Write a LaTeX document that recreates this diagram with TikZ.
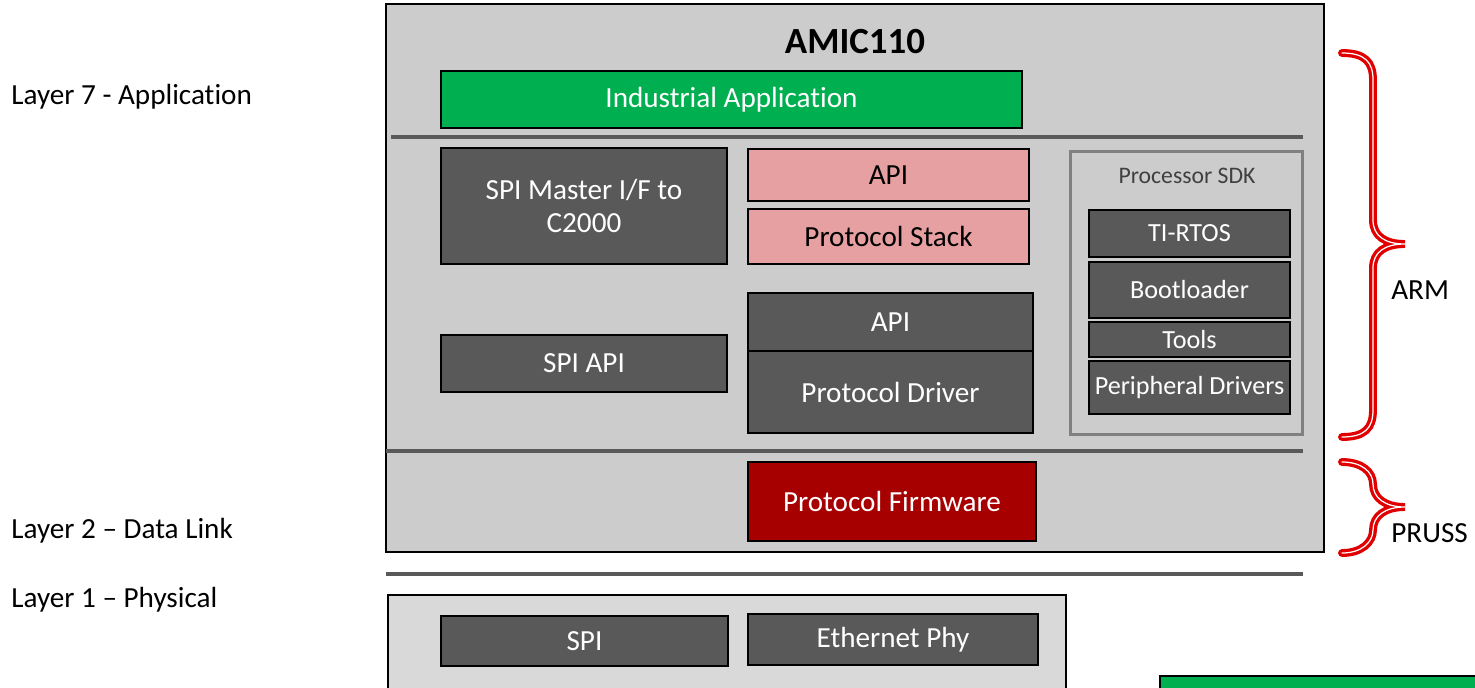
\documentclass[tikz,border=0pt]{standalone}
\usepackage{fontspec}
\setmainfont{Carlito}[Ligatures=NoCommon]
\usepackage{tikz}
\usetikzlibrary{positioning}
\definecolor{chipgray}{RGB}{204,204,204}
\definecolor{phygray}{RGB}{217,217,217}
\definecolor{boxgray}{RGB}{89,89,89}
\definecolor{stackpink}{RGB}{230,160,162}
\definecolor{fwred}{RGB}{166,0,0}
\definecolor{appgreen}{RGB}{0,176,80}
\definecolor{bracered}{RGB}{224,0,0}
\definecolor{sdkgray}{RGB}{128,128,128}
\definecolor{sdktext}{RGB}{64,64,64}
\newcommand{\lblfont}{\fontsize{16.6}{18.5}\selectfont}
\tikzset{
  layerlabel/.style={anchor=west, font=\lblfont, inner sep=0pt},
  darkbox/.style={draw=black, fill=boxgray, text=white, line width=0.8pt,
    inner sep=0pt, outer sep=0pt, font=\lblfont, align=center},
  pinkbox/.style={darkbox, fill=stackpink, text=black},
  sdkbox/.style={darkbox, font=\fontsize{14.9}{17}\selectfont},
  sepline/.style={draw=boxgray, line width=2.3pt},
  bracepath/.style={draw=bracered, line width=1.9pt, double=white,
    double distance=0.7pt, line cap=round}
}

\begin{document}
\begin{tikzpicture}[x=0.02cm, y=-0.02cm]
  \useasboundingbox (0,0) rectangle (1475,687);
  \clip (0,0) rectangle (1475,687);

  % layer names
  \node[layerlabel] (l7) at (11,97) {Layer 7 - Application};
  \node[layerlabel] (l2) at (11,531) {Layer 2 – Data Link};
  \node[layerlabel] (l1) at (11,600) {Layer 1 – Physical};

  % AMIC110 device
  \node[draw=black, fill=chipgray, line width=1pt, inner sep=0pt,
    minimum width=18.76cm, minimum height=10.96cm] (amic) at (855,278) {};
  \node[font=\fontsize{21}{24}\selectfont\bfseries] (title) at (855,42) {AMIC110};
  \node[darkbox, fill=appgreen, minimum width=11.62cm, minimum height=1.14cm]
    (indapp) at (731.5,99.5) {Industrial Application};
  \draw[sepline] (391,137) -- (1303,137);

  \node[darkbox, minimum width=5.72cm, minimum height=2.32cm]
    (spimaster) at (584,206) {SPI Master I/F to\\C2000};
  \node[darkbox, minimum width=5.72cm, minimum height=1.14cm]
    (spiapi) at (584,363.5) {SPI API};

  \node[pinkbox, minimum width=5.62cm, minimum height=1.04cm]
    (stackapi) at (888.5,175) {API};
  \node[pinkbox, minimum width=5.62cm, minimum height=1.10cm]
    (stack) at (888.5,236.5) {Protocol Stack};
  \node[darkbox, minimum width=5.70cm, minimum height=1.16cm]
    (drvapi) at (890.5,322) {API};
  \node[darkbox, minimum width=5.70cm, minimum height=1.64cm]
    (driver) at (890.5,392) {Protocol Driver};

  % processor SDK
  \node[draw=sdkgray, line width=1.7pt, inner sep=0pt,
    minimum width=4.66cm, minimum height=5.68cm] (sdk) at (1186.5,293) {};
  \node[text=sdktext, font=\fontsize{13.5}{15}\selectfont] (sdktitle) at (1187,176) {Processor SDK};
  \node[sdkbox, minimum width=4.02cm, minimum height=0.94cm] (rtos) at (1189.5,233.5) {TI-RTOS};
  \node[sdkbox, minimum width=4.02cm, minimum height=1.12cm] (boot) at (1189.5,290) {Bootloader};
  \node[sdkbox, minimum width=4.02cm, minimum height=0.70cm] (tools) at (1189.5,339.5) {Tools};
  \node[sdkbox, minimum width=4.02cm, minimum height=1.06cm] (periph) at (1189.5,387.5) {Peripheral Drivers};

  \draw[sepline] (386,451) -- (1303,451);
  \node[darkbox, fill=fwred, minimum width=5.76cm, minimum height=1.58cm]
    (firmware) at (892,501.5) {Protocol Firmware};

  % physical layer
  \draw[sepline, line width=2.8pt] (386,574) -- (1303,574);
  \node[draw=black, fill=phygray, line width=1pt, inner sep=0pt,
    minimum width=13.56cm, minimum height=2.7cm] (phy) at (727,662.5) {};
  \node[darkbox, minimum width=5.74cm, minimum height=1.0cm] (spi) at (584.5,641) {SPI};
  \node[darkbox, minimum width=5.80cm, minimum height=1.02cm] (eth) at (893,639.5) {Ethernet Phy};

  \node[darkbox, fill=appgreen, minimum width=7.2cm, minimum height=1.2cm,
    anchor=north west] (tieco) at (1160,676) {};

  % braces
  \draw[bracepath] (1342,53) .. controls (1365,53) and (1373,62) .. (1373,80)
    -- (1373,220) .. controls (1373,236) and (1385,244) .. (1405,244)
    .. controls (1385,244) and (1373,252) .. (1373,268)
    -- (1373,410) .. controls (1373,428) and (1365,437) .. (1342,437);
  \draw[bracepath] (1342,462) .. controls (1362,462) and (1373,472) .. (1373,484)
    .. controls (1373,498) and (1385,507) .. (1405,507)
    .. controls (1385,507) and (1373,516) .. (1373,530)
    .. controls (1373,542) and (1362,553) .. (1342,553);
  \node[layerlabel] (arm) at (1391,290) {ARM};
  \node[layerlabel] (pruss) at (1391,533) {PRUSS};
\end{tikzpicture}
\end{document}
